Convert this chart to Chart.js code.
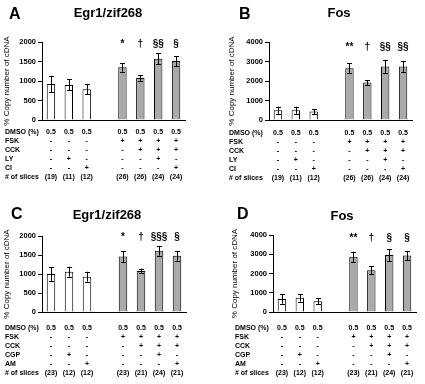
<!DOCTYPE html>
<html>
<head>
<meta charset="utf-8">
<script src="https://cdn.jsdelivr.net/npm/chart.js@4.4.1/dist/chart.umd.min.js"></script>
<style>
  body { margin: 0; background: #fff; width: 425px; height: 384px; position: relative; overflow: hidden; }
  .panel { position: absolute; }
</style>
</head>
<body>
<div class="panel" style="left:0;top:0"><canvas id="cA" width="212" height="195"></canvas></div>
<div class="panel" style="left:212px;top:0"><canvas id="cB" width="213" height="195"></canvas></div>
<div class="panel" style="left:0;top:195px"><canvas id="cC" width="212" height="189"></canvas></div>
<div class="panel" style="left:212px;top:195px"><canvas id="cD" width="213" height="189"></canvas></div>
<script>
// 8 slots, slot 4 is the empty gap between control and FSK groups
const slots = ['1', '2', '3', '', '4', '5', '6', '7'];

const egrA = [920, 900, 790, null, 1350, 1080, 1570, 1510];
const egrAErr = [200, 140, 135, null, 110, 70, 140, 130];
const fosB = [500, 500, 430, null, 2650, 1920, 2750, 2740];
const fosBErr = [180, 180, 140, null, 250, 120, 330, 270];
const egrC = [1000, 1060, 930, null, 1460, 1080, 1610, 1480];
const egrCErr = [180, 130, 130, null, 140, 60, 130, 130];
const fosD = [680, 740, 560, null, 2870, 2170, 2960, 2930];
const fosDErr = [250, 200, 150, null, 260, 200, 300, 240];

const sigA = ['', '', '', '', '*', '\u2020', '\u00a7\u00a7', '\u00a7'];
const sigB = ['', '', '', '', '**', '\u2020', '\u00a7\u00a7', '\u00a7\u00a7'];
const sigC = ['', '', '', '', '*', '\u2020', '\u00a7\u00a7\u00a7', '\u00a7'];
const sigD = ['', '', '', '', '**', '\u2020', '\u00a7', '\u00a7'];

const egrTicks = [0, 500, 1000, 1500, 2000];
const fosTicks = [0, 1000, 2000, 3000, 4000];

// table below the bars
const dmso = ['0.5', '0.5', '0.5', '', '0.5', '0.5', '0.5', '0.5'];
const fsk = ['-', '-', '-', '', '+', '+', '+', '+'];
const cck = ['-', '-', '-', '', '-', '+', '+', '+'];
const inhib1 = ['-', '+', '-', '', '-', '-', '+', '-'];
const inhib2 = ['-', '-', '+', '', '-', '-', '-', '+'];
const slicesAB = ['(19)', '(11)', '(12)', '', '(26)', '(26)', '(24)', '(24)'];
const slicesCD = ['(23)', '(12)', '(12)', '', '(23)', '(21)', '(24)', '(21)'];

const rowsAB = [['DMSO (%)', dmso], ['FSK', fsk], ['CCK', cck], ['LY', inhib1], ['CI', inhib2], ['# of slices', slicesAB]];
const rowsCD = [['DMSO (%)', dmso], ['FSK', fsk], ['CCK', cck], ['CGP', inhib1], ['AM', inhib2], ['# of slices', slicesCD]];

const FONT = "'Liberation Sans', Arial, sans-serif";
const barColors = ['#ffffff', '#ffffff', '#ffffff', '#ffffff', '#aaaaaa', '#aaaaaa', '#aaaaaa', '#aaaaaa'];

function makePanel(id, p) {
    const decor = {
        id: 'decor',
        afterDatasetsDraw(chart) {
            const ctx = chart.ctx;
            const xs = chart.scales.x, ys = chart.scales.y;
            ctx.save();
            ctx.strokeStyle = '#000';
            ctx.lineWidth = 1;
            p.values.forEach((v, i) => {
                if (v === null) return;
                const x = Math.round(xs.getPixelForValue(i)) + 0.5;
                const yt = ys.getPixelForValue(v + p.errs[i]);
                const yb = ys.getPixelForValue(v - p.errs[i]);
                ctx.beginPath();
                ctx.moveTo(x, yt); ctx.lineTo(x, yb);
                ctx.moveTo(x - 2.5, Math.round(yt) + 0.5); ctx.lineTo(x + 2.5, Math.round(yt) + 0.5);
                ctx.moveTo(x - 2.5, Math.round(yb) + 0.5); ctx.lineTo(x + 2.5, Math.round(yb) + 0.5);
                ctx.stroke();
            });
            ctx.fillStyle = '#000';
            ctx.textAlign = 'center';
            ctx.textBaseline = 'middle';
            ctx.font = 'bold 10px ' + FONT;
            p.sig.forEach((s, i) => {
                if (s) ctx.fillText(s, xs.getPixelForValue(i), p.sigY);
            });
            ctx.restore();
        },
        afterDraw(chart) {
            const ctx = chart.ctx;
            const xs = chart.scales.x;
            ctx.save();
            ctx.fillStyle = '#000';
            ctx.textBaseline = 'middle';
            ctx.textAlign = 'left';
            ctx.font = 'bold 16px ' + FONT;
            ctx.fillText(p.letter, p.letterX, p.letterY);
            ctx.textAlign = 'center';
            ctx.font = 'bold 13px ' + FONT;
            ctx.fillText(p.title, p.titleX, p.titleY);
            ctx.font = 'bold 7px ' + FONT;
            p.rows.forEach((row, r) => {
                const y = p.tableY + r * 9;
                ctx.textAlign = 'left';
                ctx.fillText(row[0], p.tableX, y);
                ctx.textAlign = 'center';
                row[1].forEach((c, i) => {
                    if (c) ctx.fillText(c, xs.getPixelForValue(i), y);
                });
            });
            ctx.restore();
        }
    };

    new Chart(document.getElementById(id), {
        type: 'bar',
        data: {
            labels: slots,
            datasets: [{
                data: p.values,
                backgroundColor: barColors,
                borderColor: '#000',
                borderWidth: 1,
                barPercentage: 0.47,
                categoryPercentage: 1
            }]
        },
        options: {
            responsive: false,
            animation: false,
            layout: { padding: { left: p.padLeft, top: p.padTop, right: p.padRight, bottom: p.padBottom } },
            plugins: { legend: { display: false }, tooltip: { enabled: false } },
            scales: {
                x: {
                    grid: { display: false },
                    border: { display: true, color: '#000', width: 1 },
                    ticks: { display: false },
                    afterFit: s => { s.height = 0; }
                },
                y: {
                    min: 0,
                    max: p.ticks[p.ticks.length - 1],
                    afterBuildTicks: s => { s.ticks = p.ticks.map(v => ({ value: v })); },
                    grid: { drawOnChartArea: false, tickLength: 4, color: '#000' },
                    border: { display: true, color: '#000', width: 1 },
                    ticks: {
                        color: '#000', padding: 2,
                        font: { family: FONT, size: 7.5, weight: 'bold' },
                        callback: v => String(v)
                    },
                    title: {
                        display: true,
                        text: '% Copy number of cDNA',
                        color: '#000',
                        padding: { top: 2, bottom: 0 },
                        font: { family: FONT, size: 8 }
                    },
                    afterFit: s => { s.width = p.yWidth; }
                }
            }
        },
        plugins: [decor]
    });
}

makePanel('cA', {
    values: egrA, errs: egrAErr, sig: sigA, rows: rowsAB, ticks: egrTicks,
    title: 'Egr1/zif268', letter: 'A',
    letterX: 9, letterY: 15, titleX: 108, titleY: 13,
    padLeft: 0, yWidth: 42, padTop: 42, padRight: 27, padBottom: 75,
    sigY: 44, tableX: 5, tableY: 132
});
makePanel('cB', {
    values: fosB, errs: fosBErr, sig: sigB, rows: rowsAB, ticks: fosTicks,
    title: 'Fos', letter: 'B',
    letterX: 27, letterY: 15, titleX: 127, titleY: 13,
    padLeft: 13, yWidth: 44, padTop: 42, padRight: 13, padBottom: 75,
    sigY: 47, tableX: 17, tableY: 133
});
makePanel('cC', {
    values: egrC, errs: egrCErr, sig: sigC, rows: rowsCD, ticks: egrTicks,
    title: 'Egr1/zif268', letter: 'C',
    letterX: 11, letterY: 20, titleX: 107, titleY: 20,
    padLeft: 0, yWidth: 42, padTop: 41, padRight: 26, padBottom: 72,
    sigY: 42, tableX: 5, tableY: 133
});
makePanel('cD', {
    values: fosD, errs: fosDErr, sig: sigD, rows: rowsCD, ticks: fosTicks,
    title: 'Fos', letter: 'D',
    letterX: 25, letterY: 20, titleX: 130, titleY: 21,
    padLeft: 16, yWidth: 45, padTop: 40, padRight: 9, padBottom: 72,
    sigY: 43, tableX: 23, tableY: 133
});
</script>
</body>
</html>
